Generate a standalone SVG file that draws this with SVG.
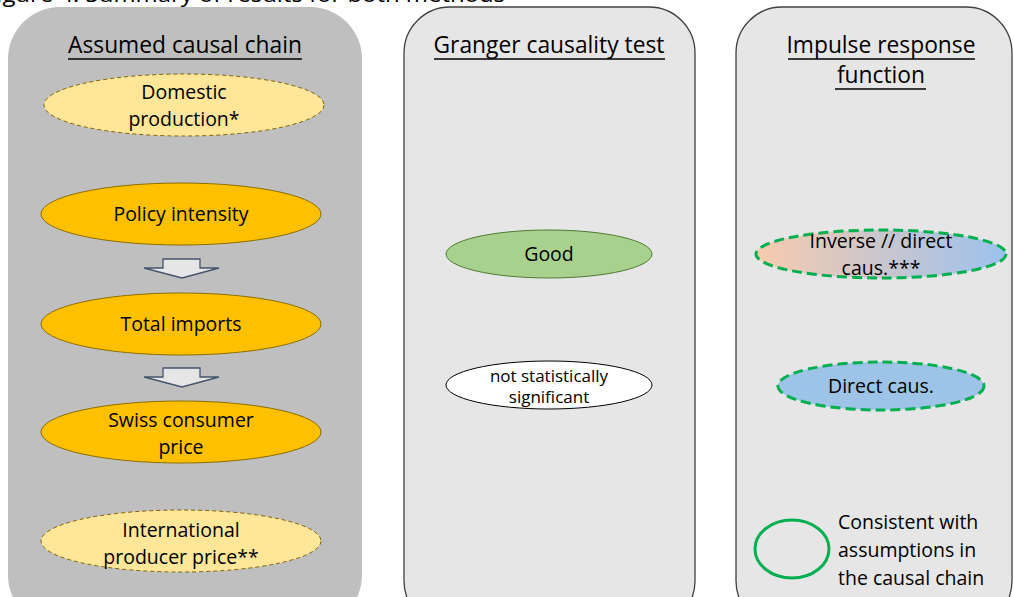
<svg xmlns="http://www.w3.org/2000/svg" width="1014" height="597" viewBox="0 0 1014 597">
  <defs>
    <linearGradient id="mixGrad" x1="0" y1="0" x2="1" y2="0">
      <stop offset="0" stop-color="#f8cbad"/>
      <stop offset="1" stop-color="#9cc2ee"/>
    </linearGradient>
    <style>
      text { font-family: "Open Sans", "Liberation Sans", sans-serif; fill: #000; }
      .title { font-size: 22.8px; text-anchor: middle; }
      .lbl { font-size: 19.5px; text-anchor: middle; }
      .small { font-size: 17px; text-anchor: middle; }
      .legend { font-size: 19.5px; }
      .uline { stroke: #000; stroke-width: 1.3; }
      .panel-main { fill: #bfbfbf; }
      .panel { fill: #e6e6e6; stroke: #404040; stroke-width: 1.3; }
      .core { fill: #ffc000; stroke: #8c6d00; stroke-width: 1; }
      .aux { fill: #ffe699; stroke: #7f6000; stroke-width: 1; stroke-dasharray: 4 3; }
      .flow { fill: #e7e6e6; stroke: #44546a; stroke-width: 1.3; }
      .good { fill: #a9d18e; stroke: #4e7a32; stroke-width: 1; }
      .nsig { fill: #ffffff; stroke: #000; stroke-width: 1; }
      .consistent { stroke: #00b050; stroke-width: 3; stroke-dasharray: 10 5; }
    </style>
  </defs>

  <!-- caption line, partly cut by the top edge -->
  <text x="-16" y="2" style="font-size:21px" textLength="521" lengthAdjust="spacingAndGlyphs">Figure 4: Summary of results for both methods</text>

  <!-- column panels -->
  <g id="panel-chain">
    <rect class="panel-main" x="8" y="7" width="354" height="620" rx="52"/>
    <text class="title" x="185" y="53">Assumed causal chain</text>
    <line class="uline" x1="68" y1="59" x2="302" y2="59"/>
  </g>
  <g id="panel-granger">
    <rect class="panel" x="404" y="7" width="291" height="620" rx="46"/>
    <text class="title" x="549" y="53">Granger causality test</text>
    <line class="uline" x1="434" y1="59" x2="665" y2="59"/>
  </g>
  <g id="panel-irf">
    <rect class="panel" x="736" y="7" width="276" height="620" rx="46"/>
    <text class="title" x="881" y="53">Impulse response</text>
    <line class="uline" x1="788" y1="59" x2="975" y2="59"/>
    <text class="title" x="881" y="83">function</text>
    <line class="uline" x1="835" y1="89" x2="926" y2="89"/>
  </g>

  <!-- causal chain nodes -->
  <g id="node-domestic">
    <ellipse class="aux" cx="184" cy="105" rx="140" ry="31"/>
    <text class="lbl" x="184" y="99">Domestic</text>
    <text class="lbl" x="184" y="126">production*</text>
  </g>
  <g id="node-policy">
    <ellipse class="core" cx="181" cy="214" rx="140" ry="31"/>
    <text class="lbl" x="181" y="221">Policy intensity</text>
  </g>
  <g id="node-imports">
    <ellipse class="core" cx="181" cy="324" rx="140" ry="31"/>
    <text class="lbl" x="181" y="331">Total imports</text>
  </g>
  <g id="node-consumer">
    <ellipse class="core" cx="181" cy="432" rx="140" ry="31"/>
    <text class="lbl" x="181" y="427">Swiss consumer</text>
    <text class="lbl" x="181" y="454">price</text>
  </g>
  <g id="node-international">
    <ellipse class="aux" cx="181" cy="541" rx="140" ry="31"/>
    <text class="lbl" x="181" y="537">International</text>
    <text class="lbl" x="181" y="564">producer price**</text>
  </g>

  <!-- block arrows between chain nodes -->
  <g id="connectors">
    <path class="flow" d="M163 259 H200 V268 H219 L182 278 L144 268 H163 Z"/>
    <path class="flow" d="M163 368 H200 V377 H219 L182 387 L144 377 H163 Z"/>
  </g>

  <!-- Granger results -->
  <g id="node-good">
    <ellipse class="good" cx="549" cy="254" rx="103" ry="24"/>
    <text class="lbl" x="549" y="261">Good</text>
  </g>
  <g id="node-nsig">
    <ellipse class="nsig" cx="549" cy="385" rx="103" ry="24"/>
    <text class="small" x="549" y="382">not statistically</text>
    <text class="small" x="549" y="403">significant</text>
  </g>

  <!-- impulse response results -->
  <g id="node-inverse">
    <ellipse class="consistent" fill="url(#mixGrad)" cx="881" cy="254" rx="125" ry="24"/>
    <text class="lbl" x="881" y="248">Inverse // direct</text>
    <text class="lbl" x="881" y="275">caus.***</text>
  </g>
  <g id="node-direct">
    <ellipse class="consistent" fill="#9dc3e6" cx="881" cy="386" rx="103" ry="24"/>
    <text class="lbl" x="881" y="393">Direct caus.</text>
  </g>

  <!-- legend -->
  <g id="legend">
    <ellipse cx="792" cy="549" rx="37" ry="29" fill="none" stroke="#00b050" stroke-width="3"/>
    <text class="legend" x="838" y="529">Consistent with</text>
    <text class="legend" x="838" y="557">assumptions in</text>
    <text class="legend" x="838" y="585">the causal chain</text>
  </g>
</svg>
